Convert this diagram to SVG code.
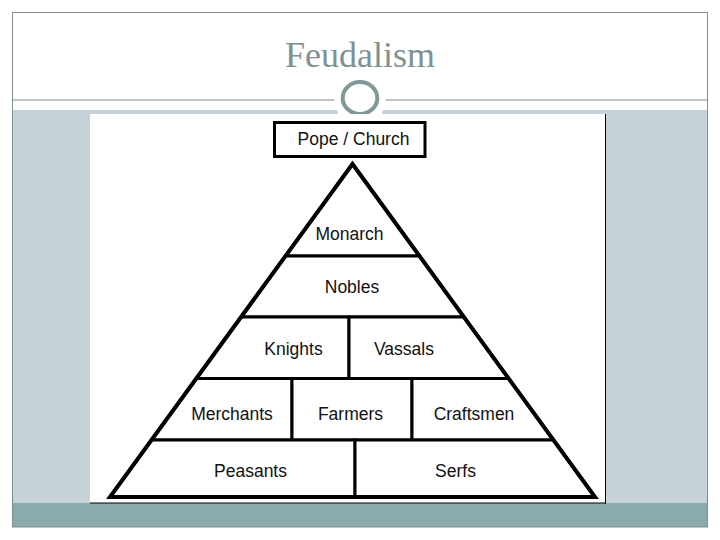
<svg xmlns="http://www.w3.org/2000/svg" width="720" height="540" viewBox="0 0 720 540">
<style>
.lbl{font-family:"Liberation Sans",Arial,sans-serif;font-size:17.5px;fill:#111;text-anchor:middle}
.cell{fill:#fff;stroke:#000;stroke-width:3;stroke-linejoin:miter}
</style>
<rect x="0" y="0" width="720" height="540" fill="#fff"/>
<g id="slide-frame">
<rect x="12" y="110" width="696" height="393" fill="#c5d2d8"/>
<rect x="12" y="503" width="696" height="24" fill="#8aabab"/>
<rect x="12.5" y="12.5" width="695" height="514.5" fill="none" stroke="#7f8f8f" stroke-width="1"/>
<line x1="12" y1="100" x2="708" y2="100" stroke="#7f8f8f" stroke-width="1.2"/>
<polygon points="334,99 386,99 382,114 338,114" fill="#fff"/>
<ellipse cx="360" cy="98" rx="17.3" ry="16" fill="#fff" stroke="#7f9999" stroke-width="4"/>
</g>
<g id="title">
<text x="360" y="67" text-anchor="middle" font-family="'Liberation Serif','Times New Roman',serif" font-size="36" fill="#7f9191">Feudalism</text>
</g>
<g id="picture">
<rect x="90" y="114" width="515.5" height="389" fill="#fff"/>
<line x1="605.5" y1="114" x2="605.5" y2="503.5" stroke="#000" stroke-width="1"/>
<line x1="90" y1="503" x2="606" y2="503" stroke="#000" stroke-width="1"/>
</g>
<g id="pope-church">
<rect x="274.5" y="122.5" width="150.5" height="34" fill="#fff" stroke="#000" stroke-width="3"/>
<text class="lbl" x="353.5" y="145">Pope / Church</text>
</g>
<g id="monarch">
<polygon class="cell" points="352.5,164 285.5,256 419.5,256"/>
<text class="lbl" x="349.5" y="240">Monarch</text>
</g>
<g id="nobles">
<polygon class="cell" points="285.5,256 419.5,256 463.9,317 241.1,317"/>
<text class="lbl" x="352" y="293">Nobles</text>
</g>
<g id="knights">
<polygon class="cell" points="241.1,317 349,317 349,378.5 196.3,378.5"/>
<text class="lbl" x="293.5" y="355">Knights</text>
</g>
<g id="vassals">
<polygon class="cell" points="349,317 463.9,317 508.7,378.5 349,378.5"/>
<text class="lbl" x="404" y="355">Vassals</text>
</g>
<g id="merchants">
<polygon class="cell" points="196.3,378.5 292,378.5 292,440 151.5,440"/>
<text class="lbl" x="232" y="419.5">Merchants</text>
</g>
<g id="farmers">
<polygon class="cell" points="292,378.5 412,378.5 412,440 292,440"/>
<text class="lbl" x="350.5" y="419.5">Farmers</text>
</g>
<g id="craftsmen">
<polygon class="cell" points="412,378.5 508.7,378.5 553.5,440 412,440"/>
<text class="lbl" x="474" y="419.5">Craftsmen</text>
</g>
<g id="peasants">
<polygon class="cell" points="151.5,440 355,440 355,497 110,497"/>
<text class="lbl" x="250.5" y="477">Peasants</text>
</g>
<g id="serfs">
<polygon class="cell" points="355,440 553.5,440 595,497 355,497"/>
<text class="lbl" x="455.5" y="477">Serfs</text>
</g>
<g id="pyramid-outline">
<polygon points="352.5,164 110,497 595,497" fill="none" stroke="#000" stroke-width="4" stroke-linejoin="miter"/>
</g>
</svg>
